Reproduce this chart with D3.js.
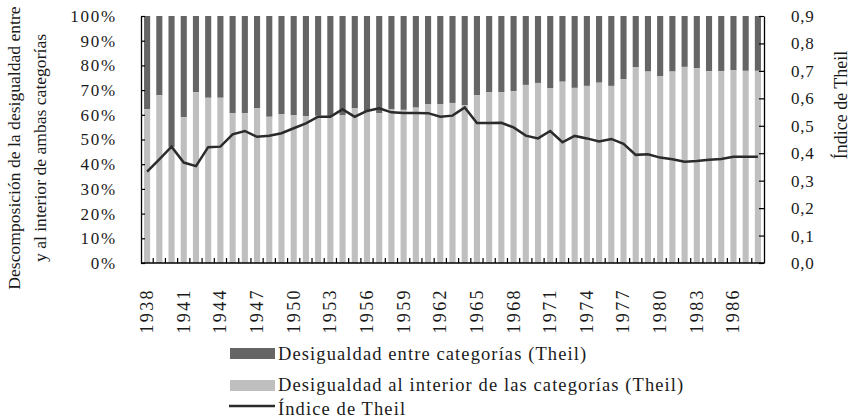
<!DOCTYPE html>
<html><head><meta charset="utf-8">
<script src="https://cdn.jsdelivr.net/npm/d3@7"></script>
<style>
html,body{margin:0;padding:0;background:#fff;}
svg{display:block;font-family:"Liberation Serif","Times New Roman",serif;}
</style></head><body>
<svg id="chart" width="858" height="420"></svg>
<script>
const years = [1938,1939,1940,1941,1942,1943,1944,1945,1946,1947,1948,1949,1950,1951,1952,1953,1954,1955,1956,1957,1958,1959,1960,1961,1962,1963,1964,1965,1966,1967,1968,1969,1970,1971,1972,1973,1974,1975,1976,1977,1978,1979,1980,1981,1982,1983,1984,1985,1986,1987,1988];
// share (%) of inequality within categories (light); the rest is between categories (dark)
const withinShare = [62.2,67.9,47.0,59.0,69.1,66.9,66.9,60.7,60.7,62.6,59.2,60.3,59.9,59.5,59.6,59.5,59.9,62.6,61.5,60.6,62.2,62.0,62.9,64.2,64.2,64.8,63.8,68.0,69.2,69.2,69.6,72.1,72.9,70.7,73.4,70.9,71.7,73.0,71.7,74.5,79.2,77.5,75.7,77.5,79.4,78.9,77.7,77.7,78.0,77.8,77.8];
const theil = [0.333,0.378,0.424,0.366,0.353,0.422,0.424,0.469,0.481,0.460,0.464,0.473,0.491,0.509,0.533,0.533,0.560,0.533,0.554,0.564,0.549,0.547,0.547,0.546,0.533,0.537,0.567,0.510,0.510,0.511,0.494,0.464,0.454,0.481,0.440,0.463,0.454,0.443,0.452,0.434,0.394,0.396,0.384,0.378,0.369,0.372,0.376,0.379,0.387,0.387,0.387];
const xTickYears = [1938,1941,1944,1947,1950,1953,1956,1959,1962,1965,1968,1971,1974,1977,1980,1983,1986];
const yTicks = [0,10,20,30,40,50,60,70,80,90,100];
const y2Ticks = [0,0.1,0.2,0.3,0.4,0.5,0.6,0.7,0.8,0.9];
const seriesNames = ["Desigualdad entre categorías (Theil)","Desigualdad al interior de las categorías (Theil)","Índice de Theil"];
const leftTitle = ["Descomposición de la desigualdad entre","y al interior de ambas categorías"];
const rightTitle = "Índice de Theil";

const colBetween = "#656565", colWithin = "#bfbfbf", colLine = "#2b2b2b", colText = "#1a1a1a";

const svg = d3.select("#chart");
const L = 141, R = 764, T = 16, B = 263;
const x = d3.scaleBand().domain(years).range([L, R]).padding(0);
const bw = x.bandwidth();
const y = d3.scaleLinear().domain([0, 100]).range([B, T]);
const y2 = d3.scaleLinear().domain([0, 0.9]).range([B, T]);

const data = years.map((yr, i) => ({yr, w: withinShare[i], t: theil[i]}));

// bars
const g = svg.append("g");
g.selectAll("rect.between").data(data).join("rect")
  .attr("x", d => x(d.yr) + bw * 0.25).attr("width", bw * 0.5)
  .attr("y", y(100)).attr("height", d => y(d.w) - y(100))
  .attr("fill", colBetween);
g.selectAll("rect.within").data(data).join("rect")
  .attr("x", d => x(d.yr) + bw * 0.25).attr("width", bw * 0.5)
  .attr("y", d => y(d.w)).attr("height", d => y(0) - y(d.w))
  .attr("fill", colWithin);

// line
svg.append("path").datum(data)
  .attr("fill", "none").attr("stroke", colLine).attr("stroke-width", 2.5)
  .attr("stroke-linejoin", "miter")
  .attr("d", d3.line().x(d => x(d.yr) + bw / 2).y(d => y2(d.t)));

// left axis
const ax = svg.append("g").attr("transform", `translate(${L},0)`)
  .call(d3.axisLeft(y).tickValues(yTicks).tickFormat(d => d + "%").tickSizeInner(-4).tickSizeOuter(0).tickPadding(24));
ax.select(".domain").attr("stroke", "#000").attr("stroke-width", 1.3);
ax.selectAll(".tick line").attr("stroke", "#000").attr("stroke-width", 1.2);
ax.selectAll("text").attr("font-size", 17).attr("font-family", "Liberation Serif").attr("fill", colText)
  .style("letter-spacing", "1.8px");

// right axis
const ar = svg.append("g").attr("transform", `translate(${R},0)`)
  .call(d3.axisRight(y2).tickValues(y2Ticks).tickFormat(d => d3.format(".1f")(d).replace(".", ",")).tickSizeInner(-5).tickSizeOuter(0).tickPadding(27));
ar.select(".domain").attr("stroke", "#000").attr("stroke-width", 1.3);
ar.selectAll(".tick line").attr("stroke", "#000").attr("stroke-width", 1.2);
ar.selectAll("text").attr("font-size", 17).attr("font-family", "Liberation Serif").attr("fill", colText)
  .style("letter-spacing", "0.8px");

// bottom axis line and category ticks
svg.append("line").attr("x1", L).attr("x2", R).attr("y1", B).attr("y2", B)
  .attr("stroke", "#000").attr("stroke-width", 1.3);
svg.append("g").selectAll("line").data(years.slice(1)).join("line")
  .attr("x1", d => x(d)).attr("x2", d => x(d)).attr("y1", B).attr("y2", B - 5)
  .attr("stroke", "#000").attr("stroke-width", 1.2);

// bottom labels
const ab = svg.append("g").attr("transform", `translate(0,${B})`)
  .call(d3.axisBottom(x).tickValues(xTickYears).tickSize(0).tickPadding(0));
ab.select(".domain").remove();
ab.selectAll("text")
  .attr("font-size", 18).attr("font-family", "Liberation Serif").attr("fill", colText)
  .style("letter-spacing", "2.4px")
  .attr("text-anchor", "end")
  .attr("y", 0).attr("dy", "0.33em").attr("x", 0)
  .attr("transform", "translate(0,25) rotate(-90)");

// axis titles
const lt = svg.append("g").attr("transform", "translate(20,148) rotate(-90)");
lt.selectAll("text").data(leftTitle).join("text")
  .attr("x", 0).attr("y", (d, i) => i * 26)
  .attr("text-anchor", "middle").attr("font-size", 17.6).attr("fill", colText)
  .text(d => d);
svg.append("text").attr("transform", "translate(847,105) rotate(-90)")
  .attr("text-anchor", "middle").attr("font-size", 18).attr("fill", colText)
  .text(rightTitle);

// legend
const lg = svg.append("g");
lg.append("rect").attr("x", 230).attr("y", 348).attr("width", 45).attr("height", 11).attr("fill", colBetween);
lg.append("rect").attr("x", 230).attr("y", 380).attr("width", 45).attr("height", 11).attr("fill", colWithin);
lg.append("line").attr("x1", 229).attr("x2", 275).attr("y1", 406).attr("y2", 406).attr("stroke", colLine).attr("stroke-width", 2.4);
lg.selectAll("text").data(seriesNames).join("text")
  .attr("x", 278).attr("y", (d, i) => [360, 391, 415][i])
  .attr("font-size", 18.5).attr("fill", colText).style("letter-spacing", "1.1px")
  .text(d => d);
</script>
</body></html>
